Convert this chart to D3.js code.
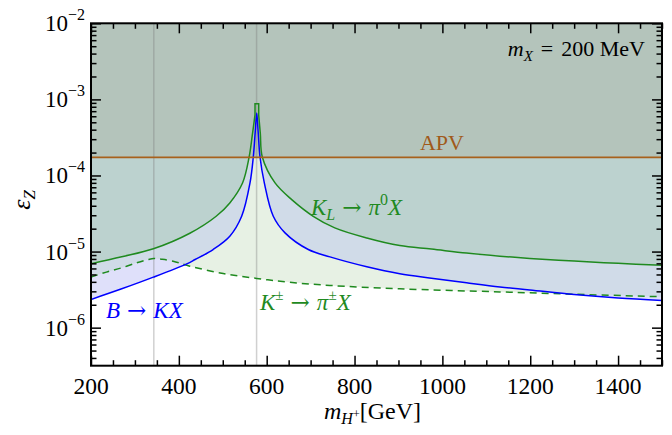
<!DOCTYPE html>
<html><head><meta charset="utf-8">
<script src="https://cdn.jsdelivr.net/npm/d3@7"></script>
<style>
body{margin:0;background:#fff;}
svg text{font-family:"Liberation Serif","Times New Roman",serif;}
.arr{font-family:"DejaVu Serif",serif;}
</style></head>
<body><svg id="c" width="672" height="435"></svg>
<script>
// ---- data ----
const klMass = [200,270,342,425,485,516,545,560,567,573.4,573.4,581.8,581.8,585.5,590,619,657,706,755,828,903,975,1055,1131,1199,1300,1400,1500];
const klEps  = [6.9e-6,8.53e-6,1.087e-5,1.74e-5,2.91e-5,4.36e-5,7.98e-5,1.75e-4,3.31e-4,6.25e-4,8.75e-4,8.75e-4,6.25e-4,3.55e-4,1.75e-4,7.98e-5,4.82e-5,2.91e-5,2.05e-5,1.51e-5,1.2e-5,1.08e-5,9.55e-6,8.71e-6,8.13e-6,7.5e-6,7.0e-6,6.61e-6];
const klBoxStart = 9, klBoxEnd = 12; // indices of the flat-topped cap
const bMass = [200,270,342,418,437,478,516,543,562,569.5,574,577.3,580.5,584.8,594.6,615,641.7,694.7,744,828,903,975,1055,1131,1199,1300,1400,1500];
const bEps  = [2.35e-6,3.24e-6,4.61e-6,6.9e-6,7.87e-6,1.064e-5,1.59e-5,2.91e-5,7.98e-5,1.75e-4,3.8e-4,6.61e-4,3.8e-4,1.75e-4,7.98e-5,2.91e-5,1.76e-5,1.064e-5,8.51e-6,6.31e-6,5.11e-6,4.47e-6,3.89e-6,3.43e-6,3.13e-6,2.72e-6,2.45e-6,2.28e-6];
const kpmMass = [200,235,270,304,330,343,360,387,425,501,577,653,744,903,1131,1300,1500];
const kpmEps  = [4.62e-6,5.37e-6,6.12e-6,7.11e-6,7.85e-6,8.13e-6,7.94e-6,7.48e-6,6.43e-6,5.15e-6,4.44e-6,3.94e-6,3.59e-6,3.24e-6,2.95e-6,2.75e-6,2.55e-6];
const apvEps = 1.73e-4;
const markerMasses = [343, 577];
const xTicksMajor = [200,400,600,800,1000,1200,1400];
const yDecades = [-6,-5,-4,-3,-2];

// ---- layout ----
const L=91, R=662, T=23.3, B=365.7;
const svg = d3.select("#c");
const x = d3.scaleLinear().domain([200,1500]).range([L,R]);
const y = d3.scaleLog().domain([Math.pow(10,-6.5),1e-2]).range([B,T]);
const zip = (a,b)=>a.map((v,i)=>[v,b[i]]);
const kl = zip(klMass,klEps), bb = zip(bMass,bEps), kpm = zip(kpmMass,kpmEps);
const lineS = d3.line().x(d=>x(d[0])).y(d=>y(d[1])).curve(d3.curveCatmullRom.alpha(0.5));
const lineL = d3.line().x(d=>x(d[0])).y(d=>y(d[1]));
const cont = s => s.replace(/^M/,"L");
const klPath = lineS(kl.slice(0,klBoxStart+1)) + cont(lineL(kl.slice(klBoxStart,klBoxEnd+1))) + cont(lineS(kl.slice(klBoxEnd)));
const bPath = lineS(bb), kpmPath = lineS(kpm);
const toArea = p => p + `L${R},${T}L${L},${T}Z`;

const defs = svg.append("defs");
defs.append("clipPath").attr("id","plot").append("rect").attr("x",L).attr("y",T).attr("width",R-L).attr("height",B-T);
defs.append("clipPath").attr("id","kpmclip").append("path").attr("d",toArea(kpmPath));

const g = svg.append("g").attr("clip-path","url(#plot)");
g.append("path").attr("d",toArea(kpmPath)).attr("fill","#e7f1e4");
g.append("path").attr("d",toArea(bPath)).attr("fill","#dfe0fa");
g.append("g").attr("clip-path","url(#kpmclip)").append("path").attr("d",toArea(bPath)).attr("fill","#d0dbe8");
g.append("path").attr("d",toArea(klPath)).attr("fill","#bcd2cf");
g.append("rect").attr("x",L).attr("y",T).attr("width",R-L).attr("height",y(apvEps)-T).attr("fill","#b4c4bb");

// marker verticals
g.selectAll("line.mk").data(markerMasses).join("line")
  .attr("x1",d=>x(d)).attr("x2",d=>x(d)).attr("y1",T).attr("y2",B)
  .attr("stroke","rgba(120,120,120,0.35)").attr("stroke-width",1.5);

// curves
g.append("path").attr("d",kpmPath).attr("fill","none").attr("stroke","#1f8a1f").attr("stroke-width",1.5).attr("stroke-dasharray","7,5");
g.append("path").attr("d",bPath).attr("fill","none").attr("stroke","#0000ff").attr("stroke-width",1.5);
g.append("path").attr("d",klPath).attr("fill","none").attr("stroke","#1f8a1f").attr("stroke-width",1.5).attr("stroke-linejoin","miter");
g.append("line").attr("x1",L).attr("x2",R).attr("y1",y(apvEps)).attr("y2",y(apvEps)).attr("stroke","#a8611c").attr("stroke-width",1.8);

// axes
const xMinor = d3.range(200,1501,50).filter(v=>v%200!==0);
const yMinor = [];
for (let e=-7;e<=-3;e++) for (let k=2;k<=9;k++){const v=k*Math.pow(10,e); if(v>=Math.pow(10,-6.5)&&v<=1e-2) yMinor.push(v);}
const yMajor = yDecades.map(e=>Math.pow(10,e));
function styleAxis(sel){sel.select(".domain").remove(); sel.selectAll(".tick line").attr("stroke","#000").attr("stroke-width",1.5); sel.selectAll(".tick text").remove();}
svg.append("g").attr("transform",`translate(0,${B})`).call(d3.axisBottom(x).tickValues(xTicksMajor).tickSize(-10)).call(styleAxis);
svg.append("g").attr("transform",`translate(0,${B})`).call(d3.axisBottom(x).tickValues(xMinor).tickSize(-5.5)).call(styleAxis);
svg.append("g").attr("transform",`translate(0,${T})`).call(d3.axisTop(x).tickValues(xTicksMajor).tickSize(-10)).call(styleAxis);
svg.append("g").attr("transform",`translate(0,${T})`).call(d3.axisTop(x).tickValues(xMinor).tickSize(-5.5)).call(styleAxis);
svg.append("g").attr("transform",`translate(${L},0)`).call(d3.axisLeft(y).tickValues(yMajor).tickSize(-10)).call(styleAxis);
svg.append("g").attr("transform",`translate(${L},0)`).call(d3.axisLeft(y).tickValues(yMinor).tickSize(-5.5)).call(styleAxis);
svg.append("g").attr("transform",`translate(${R},0)`).call(d3.axisRight(y).tickValues(yMajor).tickSize(-10)).call(styleAxis);
svg.append("g").attr("transform",`translate(${R},0)`).call(d3.axisRight(y).tickValues(yMinor).tickSize(-5.5)).call(styleAxis);
svg.append("rect").attr("x",L).attr("y",T).attr("width",R-L).attr("height",B-T).attr("fill","none").attr("stroke","#000").attr("stroke-width",2);

// tick labels
svg.selectAll("text.xt").data(xTicksMajor).join("text").attr("class","xt")
  .attr("x",d=>x(d)).attr("y",B+28).attr("text-anchor","middle").attr("font-size",23.5).text(d=>d);
const yl = svg.selectAll("text.yt").data(yDecades).join("text").attr("class","yt")
  .attr("x",85).attr("y",d=>y(Math.pow(10,d))+8).attr("text-anchor","end").attr("font-size",23);
yl.append("tspan").text("10");
yl.append("tspan").attr("font-size",16).attr("dy",-11).text(d=>"\u2212"+(-d));

// axis titles
const xt = svg.append("text").attr("x",324).attr("y",419).attr("font-size",24);
xt.append("tspan").attr("font-style","italic").text("m");
xt.append("tspan").attr("font-style","italic").attr("font-size",16).attr("dy",5).text("H");
xt.append("tspan").attr("font-size",12).attr("dy",-6).text("+");
xt.append("tspan").attr("dy",1).text("[GeV]");
const ytl = svg.append("text").attr("transform","translate(30,200) rotate(-90)").attr("font-size",26).attr("text-anchor","middle");
ytl.append("tspan").attr("font-style","italic").text("\u025B");
ytl.append("tspan").attr("font-style","italic").attr("font-size",17).attr("dy",5).text("Z");

// annotations
const mx = svg.append("text").attr("x",645).attr("y",56).attr("font-size",22).attr("text-anchor","end");
mx.append("tspan").attr("font-style","italic").text("m");
mx.append("tspan").attr("font-style","italic").attr("font-size",15).attr("dy",5).text("X");
mx.append("tspan").attr("dy",-5).attr("dx",8).text("=");
mx.append("tspan").attr("dx",8).text("200\u00A0MeV");
svg.append("text").attr("x",442).attr("y",150).attr("font-size",22).attr("text-anchor","middle").attr("fill","#a0591a").text("APV");

function arrow(t, dy){ t.append("tspan").attr("class","arr").attr("dy",dy).attr("dx",7).attr("font-size",23).text("\u2192"); }

const klt = svg.append("text").attr("x",311).attr("y",215).attr("font-size",23).attr("fill","#1f8a1f");
klt.append("tspan").attr("font-style","italic").text("K");
klt.append("tspan").attr("font-style","italic").attr("font-size",16).attr("dy",5).text("L");
arrow(klt,-5);
klt.append("tspan").attr("font-style","italic").attr("dx",7).text("\u03C0");
klt.append("tspan").attr("font-size",16).attr("dy",-10).text("0");
klt.append("tspan").attr("font-style","italic").attr("dy",10).text("X");

const kpt = svg.append("text").attr("x",260).attr("y",310).attr("font-size",23).attr("fill","#1f8a1f");
kpt.append("tspan").attr("font-style","italic").text("K");
kpt.append("tspan").attr("font-size",15).attr("dy",-10).text("\u00B1");
arrow(kpt,10);
kpt.append("tspan").attr("font-style","italic").attr("dx",7).text("\u03C0");
kpt.append("tspan").attr("font-size",15).attr("dy",-10).text("\u00B1");
kpt.append("tspan").attr("font-style","italic").attr("dy",10).text("X");

const bt = svg.append("text").attr("x",106).attr("y",318).attr("font-size",23).attr("fill","#0000ff");
bt.append("tspan").attr("font-style","italic").text("B");
arrow(bt,0);
bt.append("tspan").attr("font-style","italic").attr("dx",7).text("KX");
</script></body></html>
